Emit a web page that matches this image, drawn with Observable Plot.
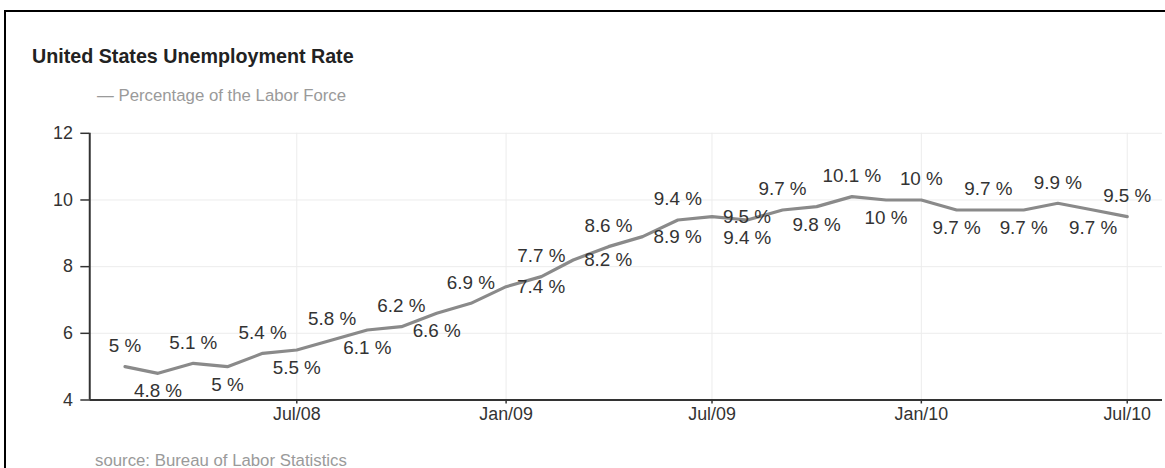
<!DOCTYPE html>
<html>
<head>
<meta charset="utf-8">
<script src="https://cdn.jsdelivr.net/npm/d3@7"></script>
<script src="https://cdn.jsdelivr.net/npm/@observablehq/plot@0.6"></script>
<style>
  html, body { margin: 0; padding: 0; width: 1165px; height: 468px; overflow: hidden; background: #fff; }
  body { position: relative; font-family: "Liberation Sans", Arial, sans-serif; }
  #frame { position: absolute; left: 4px; top: 10px; width: 1220px; height: 520px;
           border-top: 2px solid #000; border-left: 2px solid #000; box-sizing: border-box; }
  #title { position: absolute; left: 32px; top: 47px; font-size: 19.7px; line-height: 1; font-weight: bold; color: #222; white-space: nowrap; }
  #subtitle { position: absolute; left: 97px; top: 88px; font-size: 16.8px; line-height: 1; color: #9a9a9a; white-space: nowrap; }
  #source { position: absolute; left: 95px; top: 453px; font-size: 16.8px; line-height: 1; color: #9a9a9a; white-space: nowrap; }
  #chart { position: absolute; left: 0; top: 110px; }
</style>
</head>
<body>
<div id="frame"></div>
<div id="title">United States Unemployment Rate</div>
<div id="subtitle">— Percentage of the Labor Force</div>
<div id="chart"></div>
<div id="source">source: Bureau of Labor Statistics</div>
<script>
// Monthly unemployment rate (%), Jan 2008 – Jun 2010
const months = [
  "2008-01", "2008-02", "2008-03", "2008-04", "2008-05", "2008-06",
  "2008-07", "2008-08", "2008-09", "2008-10", "2008-11", "2008-12",
  "2009-01", "2009-02", "2009-03", "2009-04", "2009-05", "2009-06",
  "2009-07", "2009-08", "2009-09", "2009-10", "2009-11", "2009-12",
  "2010-01", "2010-02", "2010-03", "2010-04", "2010-05", "2010-06"
];
const rates = [
  5, 4.8, 5.1, 5, 5.4, 5.5,
  5.8, 6.1, 6.2, 6.6, 6.9, 7.4,
  7.7, 8.2, 8.6, 8.9, 9.4, 9.5,
  9.4, 9.7, 9.8, 10.1, 10, 10,
  9.7, 9.7, 9.7, 9.9, 9.7, 9.5
];
const xTicks = ["2008-07-01", "2009-01-01", "2009-07-01", "2010-01-01", "2010-07-01"];
const yTicks = [4, 6, 8, 10, 12];

// each month is plotted at its close (first day of the next month)
const data = months.map((m, i) => ({
  date: d3.utcMonth.offset(new Date(m + "-01T00:00:00Z"), 1),
  rate: rates[i],
  i
}));

// labels alternate above/below the line; a short run sits beside the point,
// after which the alternation restarts
const besidePoint = new Set([11, 13, 15, 17]);
const isAbove = i => (i <= 16 ? i % 2 === 0 : i % 2 === 1);
const above = data.filter(d => !besidePoint.has(d.i) && isAbove(d.i));
const below = data.filter(d => !besidePoint.has(d.i) && !isAbove(d.i));
const beside = data.filter(d => besidePoint.has(d.i));
const label = d => `${d.rate} %`;

const xStart = new Date("2008-01-01T00:00:00Z");
const xEnd = new Date("2010-08-01T00:00:00Z");
const xTickDates = xTicks.map(t => new Date(t + "T00:00:00Z"));

const chart = Plot.plot({
  width: 1175,
  height: 320,
  marginLeft: 90,
  marginRight: 3,
  marginTop: 23,
  marginBottom: 28,
  style: {
    fontFamily: "'Liberation Sans', Arial, sans-serif",
    fontSize: "18px",
    color: "#333",
    background: "transparent",
    overflow: "visible"
  },
  x: { type: "utc", domain: [xStart, xEnd] },
  y: { domain: [4, 12] },
  marks: [
    Plot.gridY(yTicks, { stroke: "#ececec", strokeOpacity: 1 }),
    Plot.gridX(xTickDates, { stroke: "#ececec", strokeOpacity: 1 }),
    Plot.line(data, { x: "date", y: "rate", stroke: "#8a8a8a", strokeWidth: 3.2 }),
    Plot.text(above, { x: "date", y: "rate", text: label, dy: -21, fontSize: 19, fill: "#333", clip: true }),
    Plot.text(below, { x: "date", y: "rate", text: label, dy: 18, fontSize: 19, fill: "#333", clip: true }),
    Plot.text(beside, { x: "date", y: "rate", text: label, dx: 11, textAnchor: "start", fontSize: 19, fill: "#333", clip: true }),
    Plot.ruleY([4], { stroke: "#333", strokeWidth: 2 }),
    Plot.ruleX([xStart], { stroke: "#333", strokeWidth: 2 }),
    Plot.axisY(yTicks, { tickSize: 9, tickPadding: 8, fontSize: 18, stroke: "#333", strokeWidth: 1.5, label: null }),
    Plot.axisX(xTickDates, {
      tickSize: 4, tickPadding: 3, fontSize: 18, stroke: "#333", strokeWidth: 1.5,
      tickFormat: d3.utcFormat("%b/%y"), label: null
    })
  ]
});

document.getElementById("chart").appendChild(chart);
</script>
</body>
</html>
